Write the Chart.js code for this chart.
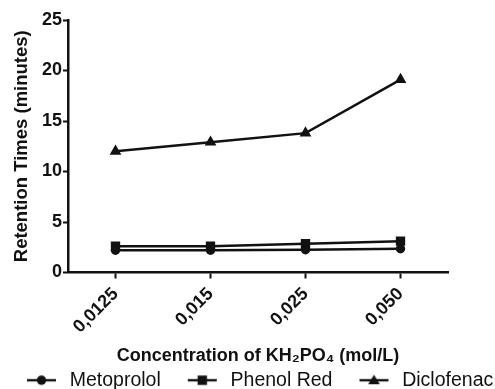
<!DOCTYPE html>
<html>
<head>
<meta charset="utf-8">
<script src="https://cdn.jsdelivr.net/npm/chart.js@4.4.0/dist/chart.umd.min.js"></script>
<style>
  html, body { margin: 0; padding: 0; background: #fff; }
  #wrap { width: 495px; height: 389px; overflow: hidden; position: relative; }
  #chart { position: absolute; left: 0; top: 0; }
</style>
</head>
<body>
<div id="wrap"><canvas id="chart" width="560" height="400"></canvas></div>
<script>
// concentration of KH2PO4 (mol/L)
var concentracoes = ['0,0125', '0,015', '0,025', '0,050'];
// retention times (minutes)
var metoprolol = [2.2, 2.2, 2.25, 2.35];
var phenolRed = [2.6, 2.6, 2.85, 3.1];
var diclofenac = [12.0, 12.9, 13.8, 19.1];
var yTicks = [0, 5, 10, 15, 20, 25];

Chart.defaults.font.family = 'Arial, "Liberation Sans", sans-serif';
Chart.defaults.color = '#000';

// little legend icons: line with the marker on it
function icone(forma) {
    var c = document.createElement('canvas');
    c.width = 56; c.height = 14;
    var g = c.getContext('2d');
    var cx = 37.5, cy = 7;
    g.strokeStyle = '#111'; g.fillStyle = '#111'; g.lineWidth = 2.4;
    g.beginPath(); g.moveTo(23, cy); g.lineTo(52, cy); g.stroke();
    g.beginPath();
    if (forma == 'circle') {
        g.arc(cx, cy, 4.7, 0, Math.PI * 2);
    } else if (forma == 'rect') {
        g.rect(cx - 4.7, cy - 4.7, 9.4, 9.4);
    } else {
        g.moveTo(cx, cy - 5.5); g.lineTo(cx + 5.8, cy + 4); g.lineTo(cx - 5.8, cy + 4); g.closePath();
    }
    g.fill();
    return c;
}
var icones = [icone('circle'), icone('rect'), icone('triangle')];

function serie(label, data, forma, raio) {
    return {
        label: label,
        data: data,
        borderColor: '#111',
        backgroundColor: '#111',
        borderWidth: 2.4,
        pointStyle: forma,
        pointRadius: raio,
        pointHoverRadius: raio,
        pointBackgroundColor: '#111',
        pointBorderColor: '#111',
        pointBorderWidth: 0,
        tension: 0,
        fill: false
    };
}

var config = {
    type: 'line',
    data: {
        labels: concentracoes,
        datasets: [
            serie('Metoprolol', metoprolol, 'circle', 4.7),
            serie('Phenol Red', phenolRed, 'rect', 6.6),
            serie('Diclofenac', diclofenac, 'triangle', 6.8)
        ]
    },
    options: {
        responsive: false,
        devicePixelRatio: 1,
        animation: false,
        layout: { padding: { top: 20, left: 0, right: 0, bottom: 0 } },
        plugins: {
            tooltip: { enabled: false },
            legend: {
                display: true,
                position: 'bottom',
                align: 'start',
                labels: {
                    usePointStyle: true,
                    pointStyleWidth: 56,
                    padding: 4,
                    color: '#111',
                    font: { size: 19.5 },
                    generateLabels: function (chart) {
                        var itens = Chart.defaults.plugins.legend.labels.generateLabels(chart);
                        itens.forEach(function (it, i) { it.pointStyle = icones[i]; });
                        return itens;
                    }
                }
            }
        },
        scales: {
            x: {
                type: 'category',
                offset: true,
                grid: { display: true, drawOnChartArea: false, drawTicks: true, tickLength: 6, tickWidth: 2, tickColor: '#111' },
                border: { display: true, color: '#111', width: 2.5 },
                ticks: { minRotation: 45, maxRotation: 45, padding: 5, color: '#111', font: { size: 18, weight: 'bold' } },
                title: {
                    display: true,
                    text: 'Concentration of KH\u2082PO\u2084 (mol/L)',
                    color: '#111',
                    font: { size: 18, weight: 'bold' },
                    padding: { top: 4, bottom: 0 }
                },
                afterFit: function (s) { s.height = 94; }
            },
            y: {
                min: 0,
                max: 25,
                afterBuildTicks: function (s) { s.ticks = yTicks.map(function (v) { return { value: v }; }); },
                grid: { display: true, drawOnChartArea: false, drawTicks: true, tickLength: 5, tickWidth: 2, tickColor: '#111' },
                border: { display: true, color: '#111', width: 2.5 },
                ticks: { padding: 1, color: '#111', font: { size: 18, weight: 'bold' } },
                title: {
                    display: true,
                    text: 'Retention Times (minutes)',
                    color: '#111',
                    font: { size: 18.5, weight: 'bold' },
                    padding: { top: 11, bottom: 0 }
                },
                afterFit: function (s) { s.width = 68; }
            },
            direita: {
                type: 'linear',
                position: 'right',
                display: true,
                grid: { display: false },
                border: { display: false },
                ticks: { display: false },
                afterFit: function (s) { s.width = 112; }
            }
        }
    }
};

var grafico = new Chart(document.getElementById('chart').getContext('2d'), config);
</script>
</body>
</html>
